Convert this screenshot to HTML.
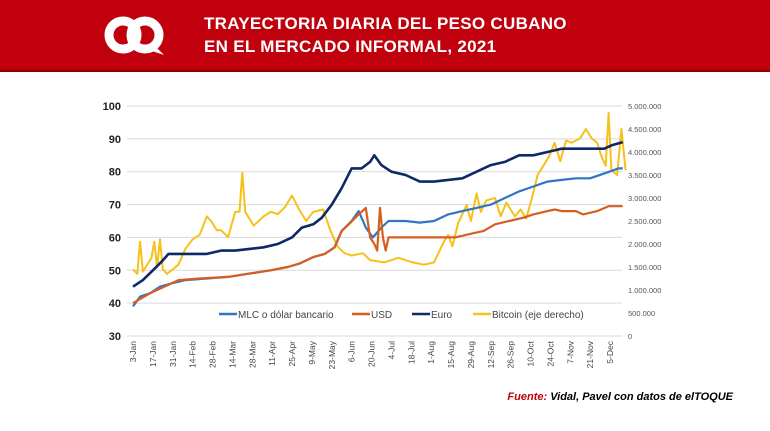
<!DOCTYPE html>
<html><head><meta charset="utf-8"><style>
body{margin:0;width:770px;height:431px;background:#fff;font-family:"Liberation Sans",sans-serif;overflow:hidden;position:relative}
#hdr{position:absolute;left:0;top:0;width:770px;height:70px;background:#c0000c;border-bottom:2px solid #8e0008}
#title{position:absolute;left:204px;top:12px;color:#fff;font-weight:bold;font-size:17px;line-height:23px;letter-spacing:0.3px}
#src{position:absolute;right:37px;top:391px;font-size:11px;font-weight:bold;font-style:italic}
</style></head><body>
<div id="hdr">
<svg style="position:absolute;left:104px;top:13px" width="62" height="44">
<circle cx="19" cy="22" r="14" fill="none" stroke="#fff" stroke-width="9"/>
<circle cx="41" cy="22" r="14" fill="none" stroke="#fff" stroke-width="9"/>
<path d="M52 34 L60 42 L48 38Z" fill="#fff"/>
</svg>
<div id="title">TRAYECTORIA DIARIA DEL PESO CUBANO<br>EN EL MERCADO INFORMAL, 2021</div>
</div>
<svg id="chart" width="770" height="431" style="position:absolute;left:0;top:0"></svg>
<div id="src"><span style="color:#c0000c">Fuente:</span> Vidal, Pavel con datos de elTOQUE</div>
<script>
const leftTicks=[30,40,50,60,70,80,90,100];
const rightTicks=["0","500.000","1.000.000","1.500.000","2.000.000","2.500.000","3.000.000","3.500.000","4.000.000","4.500.000","5.000.000"];
const xLabels=["3-Jan","17-Jan","31-Jan","14-Feb","28-Feb","14-Mar","28-Mar","11-Apr","25-Apr","9-May","23-May","6-Jun","20-Jun","4-Jul","18-Jul","1-Aug","15-Aug","29-Aug","12-Sep","26-Sep","10-Oct","24-Oct","7-Nov","21-Nov","5-Dec"];
const xLabelDays=[3,17,31,45,59,73,87,101,115,129,143,157,171,185,199,213,227,241,255,269,283,297,311,325,339];
const euroDays=[3,10,17,24,28,35,45,55,65,75,85,95,105,115,122,130,136,143,150,157,164,170,173,178,185,195,205,215,225,235,245,255,265,275,285,295,305,315,325,335,340,348];
const euroVals=[45,47,50,53,55,55,55,55,56,56,56.5,57,58,60,63,64,66,70,75,81,81,83,85,82,80,79,77,77,77.5,78,80,82,83,85,85,86,87,87,87,87,88,89];
const mlcDays=[3,8,15,22,30,40,55,70,85,100,112,120,130,138,145,150,157,162,167,172,178,183,195,205,215,225,235,245,255,265,275,285,295,305,315,325,335,345,348];
const mlcVals=[39,42,43,45,46,47,47.5,48,49,50,51,52,54,55,57,62,65,68,63,60,63,65,65,64.5,65,67,68,69,70,72,74,75.5,77,77.5,78,78,79.5,81,81];
const usdDays=[3,15,25,35,50,70,85,100,112,120,130,138,145,150,155,162,167,170,173,175,177,179,181,183,190,200,230,240,250,258,268,278,285,295,300,305,315,320,330,338,348];
const usdVals=[40,43,45,47,47.5,48,49,50,51,52,54,55,57,62,64,67,69,60,58,56,69,60,56,60,60,60,60,61,62,64,65,66,67,68,68.5,68,68,67,68,69.5,69.5];
const btcDays=[3,6,8,10,16,18,20,22,24,27,35,40,45,50,55,58,62,65,70,75,78,80,82,88,95,100,105,110,115,120,125,130,137,142,147,152,157,165,170,180,190,200,208,215,222,225,228,232,238,241,245,248,252,258,262,266,272,276,280,284,288,292,296,300,304,308,312,318,322,326,330,333,336,338,340,344,347,350];
const btcVals=[1.45,1.35,2.05,1.4,1.7,2.05,1.5,2.1,1.45,1.35,1.55,1.9,2.1,2.2,2.6,2.5,2.3,2.3,2.15,2.7,2.7,3.55,2.7,2.4,2.6,2.7,2.65,2.8,3.05,2.75,2.5,2.7,2.75,2.3,1.95,1.8,1.75,1.8,1.65,1.6,1.7,1.6,1.55,1.6,2.05,2.2,1.95,2.45,2.85,2.5,3.1,2.7,2.95,3.0,2.6,2.9,2.6,2.75,2.55,3.0,3.5,3.7,3.9,4.2,3.8,4.25,4.2,4.3,4.5,4.3,4.2,3.9,3.7,4.85,3.6,3.5,4.5,3.6];
const svg=document.getElementById('chart');
const NS='http://www.w3.org/2000/svg';
const X=d=>133+(d-3)*(610-133)/336;
const Y=v=>336-(v-30)*(230/70);
const YR=m=>336-m*(230/5);
function mk(t,a){const e=document.createElementNS(NS,t);for(const k in a)e.setAttribute(k,a[k]);svg.appendChild(e);return e;}
leftTicks.forEach(v=>{
 const g=mk('line',{x1:127,x2:622,y1:Y(v),y2:Y(v),stroke:'#d9d9d9','stroke-width':1});
 
 
 const t=mk('text',{x:121,y:Y(v)+4,'text-anchor':'end','font-size':11,'font-weight':'bold',fill:'#222'});
 t.textContent=v;
 
 
});
rightTicks.forEach((s,i)=>{
 const t=mk('text',{x:628,y:YR(i*0.5)+3,'font-size':7.5,fill:'#555'});
 t.textContent=s;
 
 
});
xLabels.forEach((s,i)=>{
 const x=X(xLabelDays[i]);
 const t=mk('text',{x:0,y:0,'font-size':8.5,fill:'#444','text-anchor':'end',transform:`translate(${x+3},341) rotate(-90)`});
 t.textContent=s;
 
 
});
function series(days,vals,yf,color,name,w){
 const p=days.map((d,i)=>X(d).toFixed(1)+','+yf(vals[i]).toFixed(1)).join(' ');
 const l=mk('polyline',{points:p,fill:'none',stroke:color,'stroke-width':w,'stroke-linejoin':'round'});
 
 
}
series(btcDays,btcVals,YR,'#f5c11a','bitcoin-line',2);
series(mlcDays,mlcVals,Y,'#2e75c6','mlc-line',2.2);
series(usdDays,usdVals,Y,'#d65f1f','usd-line',2.2);
series(euroDays,euroVals,Y,'#0d2a66','euro-line',2.6);
const leg=[['MLC o dólar bancario','#2e75c6',219],['USD','#d65f1f',352],['Euro','#0d2a66',412],['Bitcoin (eje derecho)','#f5c11a',473]];
leg.forEach(([s,c,x])=>{
 const l=mk('line',{x1:x,x2:x+18,y1:314,y2:314,stroke:c,'stroke-width':2.5});
 
 
 const t=mk('text',{x:x+19,y:318,'font-size':10,fill:'#444'});
 t.textContent=s;
 
 
});
</script>
</body></html>
